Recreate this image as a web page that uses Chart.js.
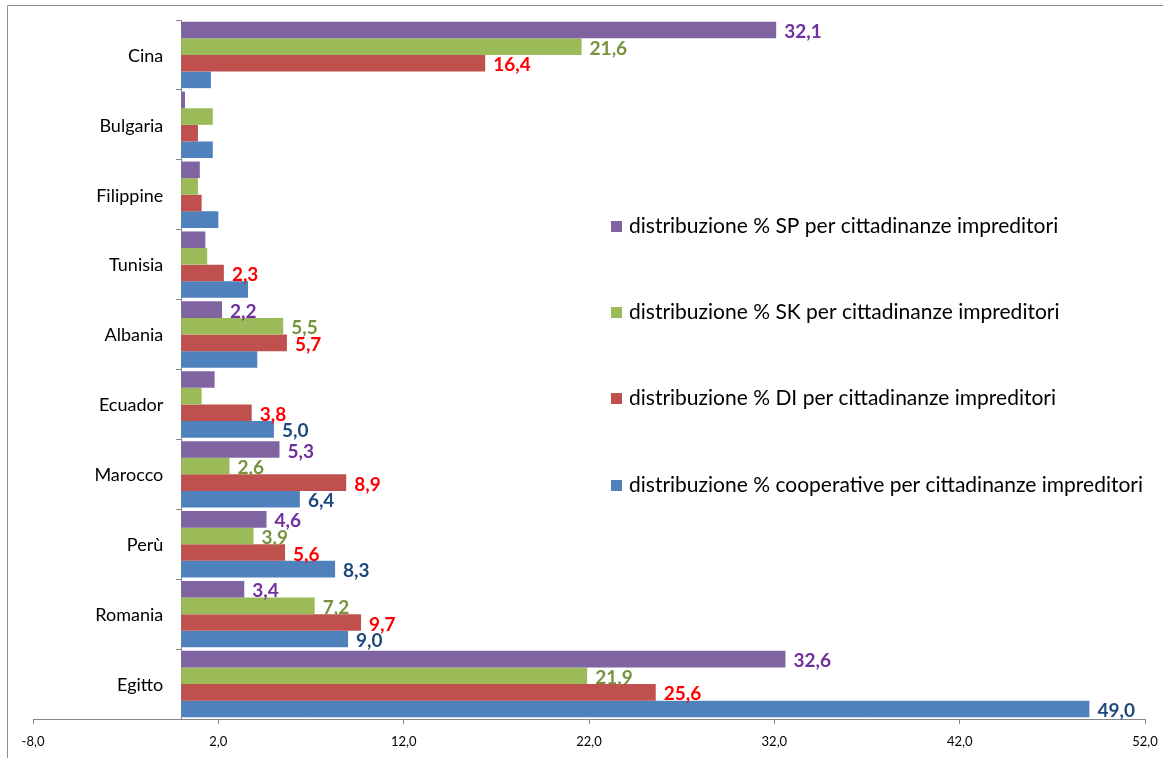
<!DOCTYPE html>
<html>
<head>
<meta charset="utf-8">
<script src="https://cdn.jsdelivr.net/npm/chart.js@4"></script>
<style>
  html, body { margin: 0; padding: 0; background: #fff; }
  #wrap { width: 1163px; height: 758px; position: relative; }
</style>
</head>
<body>
<div id="wrap"><canvas id="chart" width="1163" height="758"></canvas></div>
<script>
const categories = ['Cina', 'Bulgaria', 'Filippine', 'Tunisia', 'Albania', 'Ecuador', 'Marocco', 'Perù', 'Romania', 'Egitto'];

const spValues = [32.1, 0.2, 1.0, 1.3, 2.2, 1.8, 5.3, 4.6, 3.4, 32.6];
const skValues = [21.6, 1.7, 0.9, 1.4, 5.5, 1.1, 2.6, 3.9, 7.2, 21.9];
const diValues = [16.4, 0.9, 1.1, 2.3, 5.7, 3.8, 8.9, 5.6, 9.7, 25.6];
const coopValues = [1.6, 1.7, 2.0, 3.6, 4.1, 5.0, 6.4, 8.3, 9.0, 49.0];

// which bars carry a value label in the original
const spShown = [1, 0, 0, 0, 1, 0, 1, 1, 1, 1];
const skShown = [1, 0, 0, 0, 1, 0, 1, 1, 1, 1];
const diShown = [1, 0, 0, 1, 1, 1, 1, 1, 1, 1];
const coopShown = [0, 0, 0, 0, 0, 1, 1, 1, 1, 1];

const seriesNames = [
  'distribuzione % SP per cittadinanze impreditori',
  'distribuzione % SK per cittadinanze impreditori',
  'distribuzione % DI per cittadinanze impreditori',
  'distribuzione % cooperative per cittadinanze impreditori'
];

const xTicks = [-8, 2, 12, 22, 32, 42, 52];

const barColors = ['#8064A2', '#9BBB59', '#C0504D', '#4F81BD'];
const labelColors = ['#7030A0', '#77933C', '#FF0000', '#1F497D'];
const axisColor = '#868686';

const comma = (v) => v.toFixed(1).replace('.', ',');

const frame = {
  id: 'frame',
  beforeDraw: function(chart) {
    const ctx = chart.ctx;
    ctx.save();
    ctx.strokeStyle = '#8c8c8c';
    ctx.lineWidth = 1;
    ctx.beginPath();
    ctx.moveTo(7.5, chart.height + 2);
    ctx.lineTo(7.5, 5.5);
    ctx.lineTo(chart.width + 2, 5.5);
    ctx.stroke();
    ctx.restore();
  }
};

// category names, drawn left of the axis that crosses at x = 0
const categoryLabels = {
  id: 'categoryLabels',
  afterDraw: function(chart) {
    const ctx = chart.ctx;
    const yScale = chart.scales.y;
    const xAxis = chart.scales.x.getPixelForValue(0);
    ctx.save();
    ctx.font = '18px Lato';
    ctx.fillStyle = '#000';
    ctx.textAlign = 'right';
    ctx.textBaseline = 'middle';
    categories.forEach((name, i) => {
      ctx.fillText(name, xAxis - 18, yScale.getPixelForTick(i) + 1);
    });
    ctx.restore();
  }
};

const valueLabels = {
  id: 'valueLabels',
  afterDatasetsDraw: function(chart) {
    const ctx = chart.ctx;
    ctx.save();
    ctx.font = 'bold 19px Lato';
    ctx.textAlign = 'left';
    ctx.textBaseline = 'middle';
    chart.data.datasets.forEach((ds, i) => {
      const meta = chart.getDatasetMeta(i);
      meta.data.forEach((bar, j) => {
        if (!ds.shown[j]) {
          return;
        }
        ctx.fillStyle = labelColors[i];
        ctx.fillText(comma(ds.data[j]), bar.x + 8, bar.y + 2);
      });
    });
    ctx.restore();
  }
};

const sideLegend = {
  id: 'sideLegend',
  afterDraw: function(chart) {
    const ctx = chart.ctx;
    const rows = [226, 312, 398, 485];
    ctx.save();
    ctx.font = '21px Lato';
    ctx.textAlign = 'left';
    ctx.textBaseline = 'middle';
    seriesNames.forEach((name, i) => {
      ctx.fillStyle = barColors[i];
      ctx.fillRect(611, rows[i] - 5, 11, 11);
      ctx.fillStyle = '#000';
      ctx.fillText(name, 629, rows[i]);
    });
    ctx.restore();
  }
};

new Chart(document.getElementById('chart'), {
  type: 'bar',
  data: {
    labels: categories,
    datasets: [
      { label: seriesNames[0], data: spValues, shown: spShown, backgroundColor: barColors[0] },
      { label: seriesNames[1], data: skValues, shown: skShown, backgroundColor: barColors[1] },
      { label: seriesNames[2], data: diValues, shown: diShown, backgroundColor: barColors[2] },
      { label: seriesNames[3], data: coopValues, shown: coopShown, backgroundColor: barColors[3] }
    ]
  },
  options: {
    indexAxis: 'y',
    responsive: false,
    animation: false,
    categoryPercentage: 0.95,
    barPercentage: 1.0,
    layout: {
      padding: { left: 33, right: 18, top: 20, bottom: -1 }
    },
    plugins: {
      legend: { display: false },
      tooltip: { enabled: false }
    },
    scales: {
      x: {
        type: 'linear',
        min: -8,
        max: 52,
        afterBuildTicks: (axis) => {
          axis.ticks = xTicks.map((v) => ({ value: v }));
        },
        afterFit: (axis) => {
          // the outer padding already leaves room for the end labels
          axis.paddingLeft = 0;
          axis.paddingRight = 0;
        },
        grid: {
          drawOnChartArea: false,
          drawTicks: true,
          tickLength: 5,
          color: axisColor
        },
        border: { color: axisColor, width: 1 },
        ticks: {
          padding: 11,
          color: '#000',
          font: { family: 'Lato', size: 13, lineHeight: 1 },
          callback: (v) => comma(v)
        }
      },
      y: {
        position: { x: 0 },
        grid: {
          offset: true,
          drawOnChartArea: false,
          drawTicks: true,
          tickLength: 5,
          color: axisColor
        },
        border: { color: axisColor, width: 1 },
        ticks: { display: false }
      }
    }
  },
  plugins: [frame, categoryLabels, valueLabels, sideLegend]
});
</script>
</body>
</html>
